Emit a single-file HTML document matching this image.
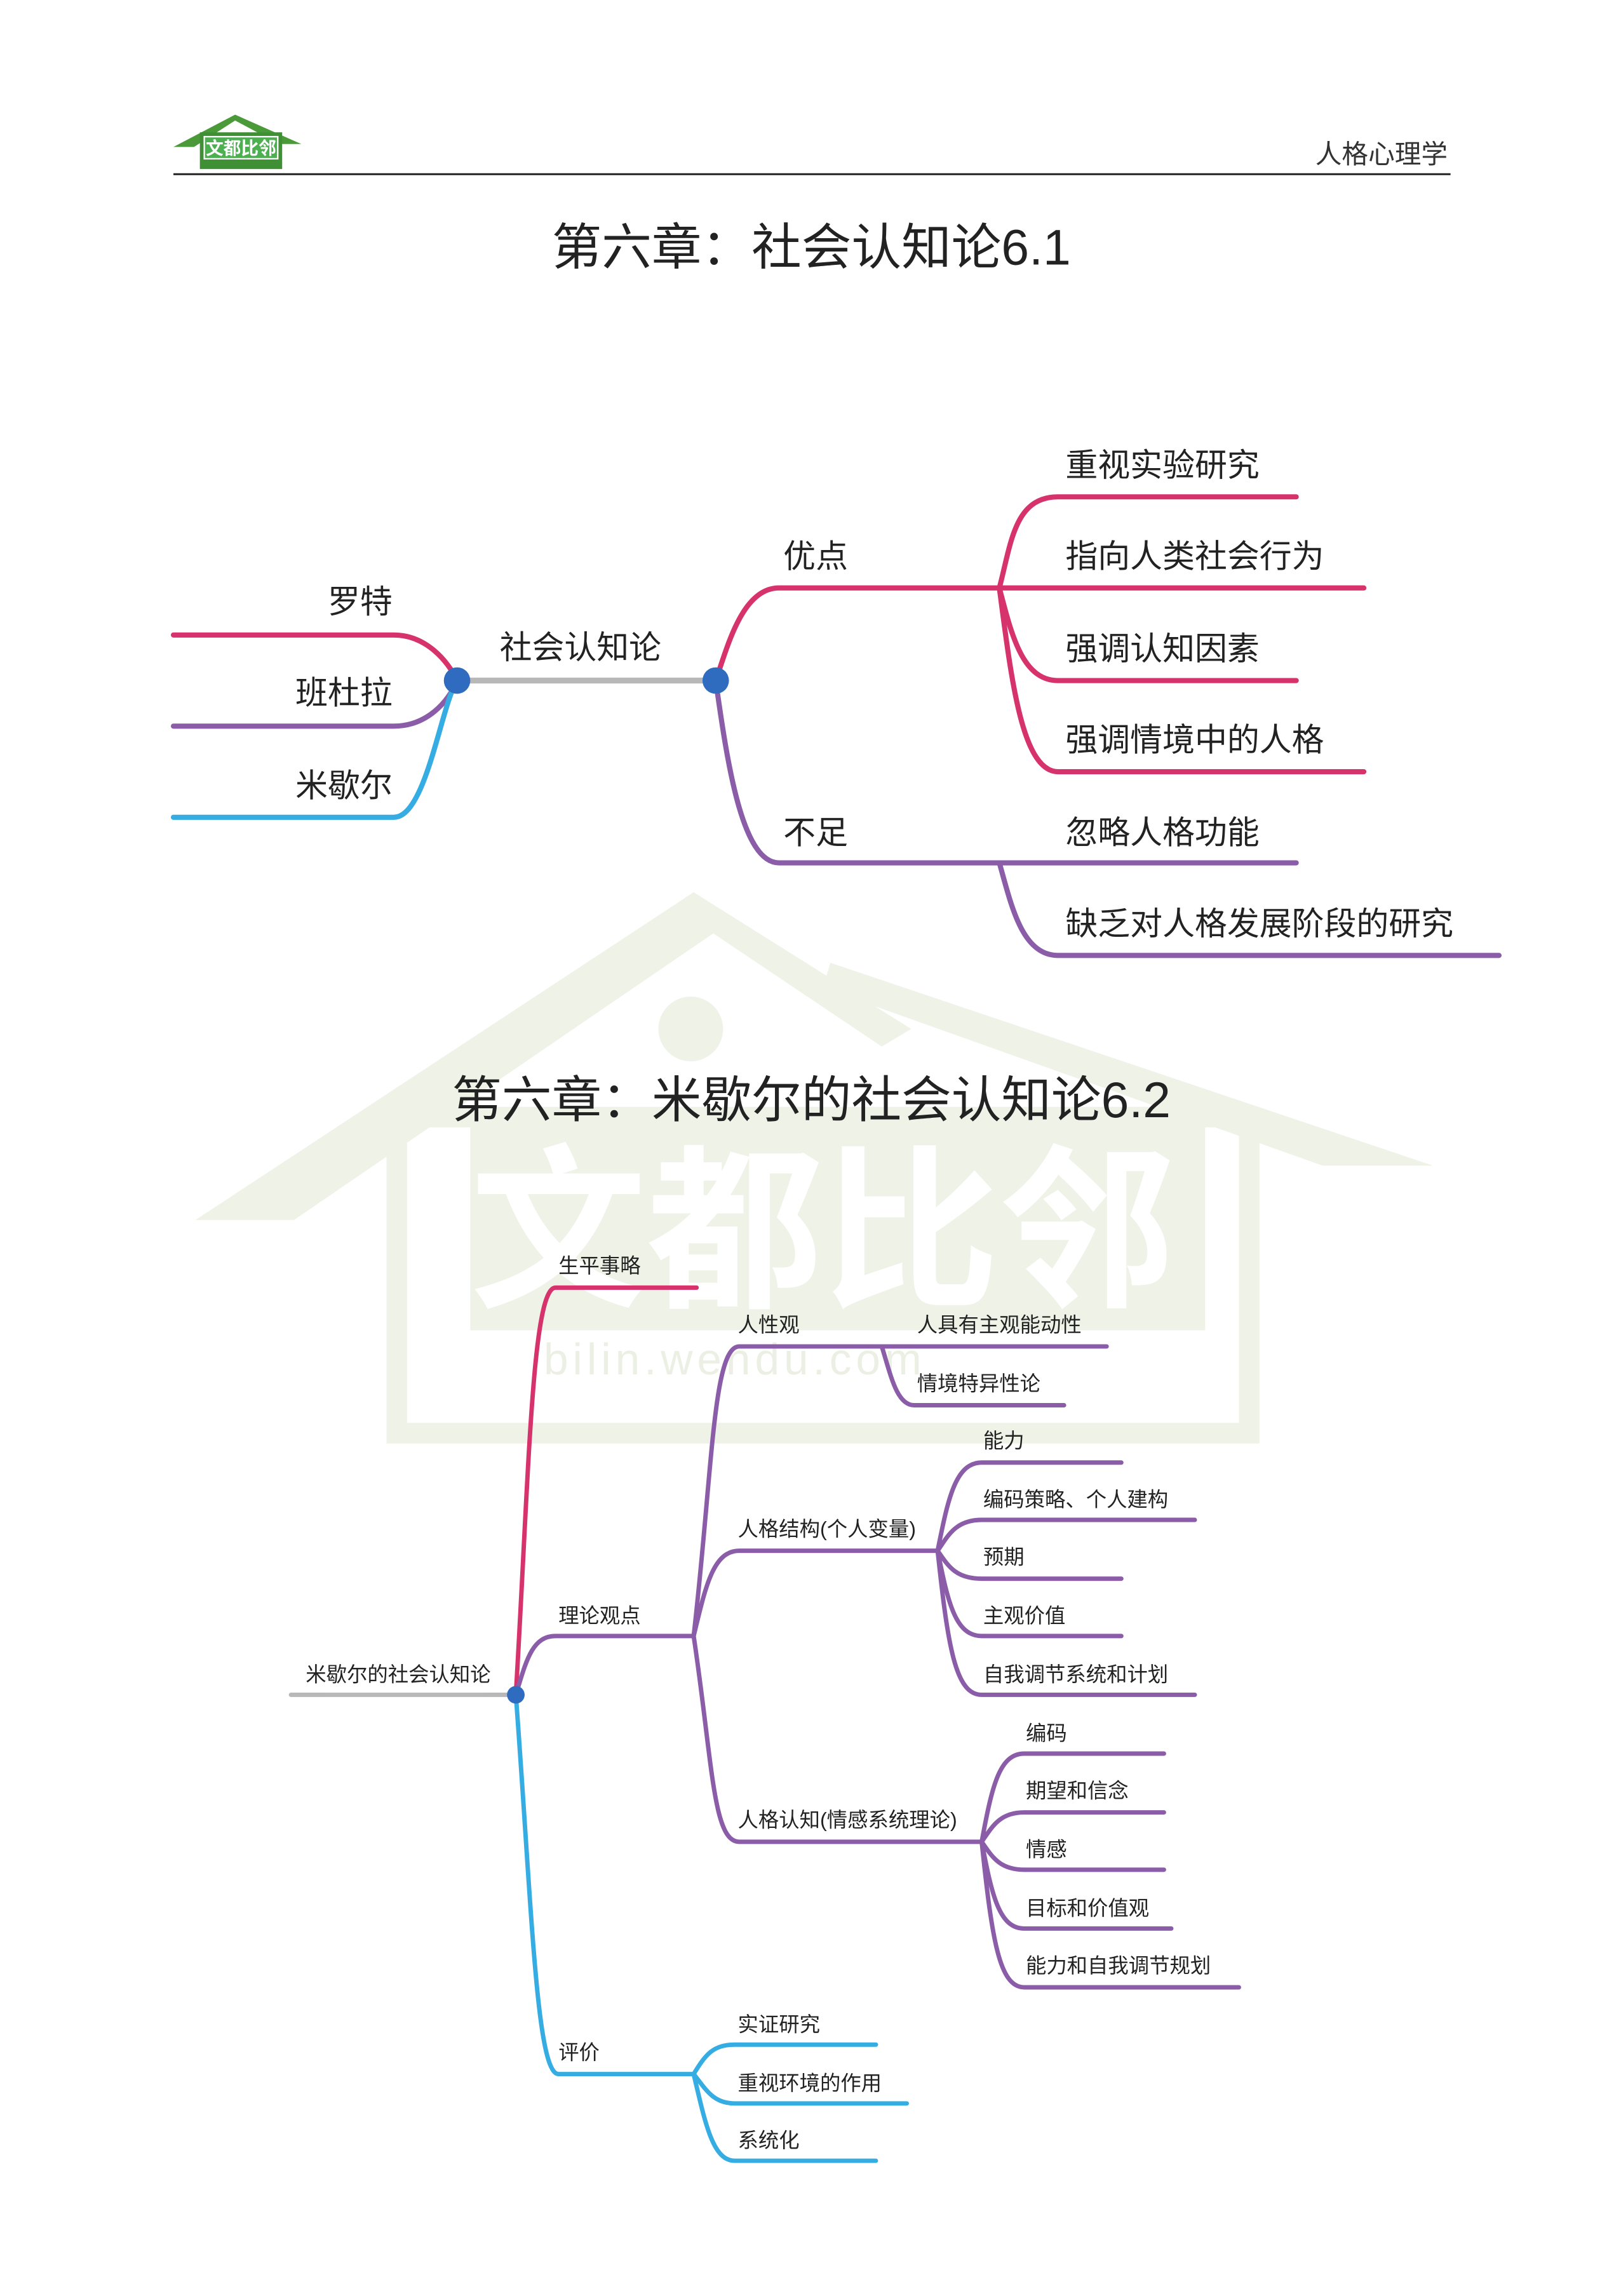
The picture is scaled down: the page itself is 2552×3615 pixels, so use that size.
<!DOCTYPE html>
<html><head><meta charset="utf-8">
<style>
html,body{margin:0;padding:0;background:#fff;}
svg{display:block;}
text{font-family:"Liberation Sans","Noto Sans CJK SC",sans-serif;fill:#222;}
</style></head>
<body>
<svg width="2552" height="3615" viewBox="0 0 1103 1562" preserveAspectRatio="none" xmlns="http://www.w3.org/2000/svg">
<!-- watermark -->
<g fill="#eef2e7">
<polygon points="133,830 472,607 500,625 200,830"/>
<polygon points="565,655 975,793 900,793 560,672"/>
<polygon points="472,607 620,700 600,712 466,622"/>
<rect x="270" y="760" width="580" height="215" fill="none" stroke="#eef2e7" stroke-width="14"/>
<rect x="320" y="765" width="500" height="140"/>
<circle cx="470" cy="700" r="22"/>
</g>
<text x="560" y="880" font-size="120" font-weight="bold" text-anchor="middle" style="fill:#ffffff">文都比邻</text>
<text x="500" y="935" font-size="30" text-anchor="middle" style="fill:#ebefe4" letter-spacing="3">bilin.wendu.com</text>

<!-- header -->
<polygon points="118,100 160,78 205,98 190,98 160,82 132,100" fill="#4a9a3a"/>
<rect x="136" y="90" width="56" height="25" fill="#3f8f35"/>
<rect x="139" y="93" width="50" height="15" fill="#4caf50" stroke="#fff" stroke-width="1"/>
<text x="164" y="105" font-size="12" font-weight="bold" text-anchor="middle" style="fill:#fff">文都比邻</text>
<line x1="118" y1="118.5" x2="987" y2="118.5" stroke="#222" stroke-width="1.3"/>
<text x="985" y="111" font-size="18" text-anchor="end" style="fill:#333">人格心理学</text>

<text x="552" y="180" font-size="34" text-anchor="middle">第六章：社会认知论6.1</text>

<!-- map1 -->
<g fill="none" stroke-width="3.5" stroke-linecap="round">
<line x1="311" y1="463" x2="487" y2="463" stroke="#b8b8b8" stroke-width="4"/>
<path d="M118,432 L268,432 C290,432 305,450 311,463" stroke="#d6336c"/>
<path d="M118,494 L268,494 C290,494 305,478 311,463" stroke="#8b5ca8"/>
<path d="M118,556 L268,556 C290,556 300,480 311,463" stroke="#36ade2"/>
<path d="M487,463 C495,440 505,400 530,400 L680,400" stroke="#d6336c"/>
<path d="M680,400 C688,370 690,338 720,338 L882,338" stroke="#d6336c"/>
<path d="M680,400 L928,400" stroke="#d6336c"/>
<path d="M680,400 C688,430 695,463 720,463 L882,463" stroke="#d6336c"/>
<path d="M680,400 C688,460 695,525 720,525 L928,525" stroke="#d6336c"/>
<path d="M487,463 C495,520 505,587 530,587 L882,587" stroke="#8b5ca8"/>
<path d="M680,587 C688,615 695,650 720,650 L1020,650" stroke="#8b5ca8"/>
</g>
<circle cx="311" cy="463" r="9" fill="#2f6cc0"/>
<circle cx="487" cy="463" r="9" fill="#2f6cc0"/>
<g font-size="22">
<text x="267" y="417" text-anchor="end">罗特</text>
<text x="267" y="479" text-anchor="end">班杜拉</text>
<text x="267" y="542" text-anchor="end">米歇尔</text>
<text x="340" y="448">社会认知论</text>
<text x="533" y="386">优点</text>
<text x="533" y="574">不足</text>
<text x="725" y="324">重视实验研究</text>
<text x="725" y="386">指向人类社会行为</text>
<text x="725" y="449">强调认知因素</text>
<text x="725" y="511">强调情境中的人格</text>
<text x="725" y="574">忽略人格功能</text>
<text x="725" y="636">缺乏对人格发展阶段的研究</text>
</g>

<text x="552" y="760" font-size="34" text-anchor="middle">第六章：米歇尔的社会认知论6.2</text>

<!-- map2 -->
<g fill="none" stroke-width="3" stroke-linecap="round">
<line x1="198" y1="1153" x2="350" y2="1153" stroke="#b8b8b8"/>
<path d="M351,1153 C360,1000 362,876 378,876 L474,876" stroke="#d6336c"/>
<path d="M351,1153 C358,1130 362,1113 378,1113 L472,1113" stroke="#8b5ca8"/>
<path d="M351,1153 C362,1300 365,1411 380,1411 L472,1411" stroke="#36ade2"/>
<path d="M472,1113 C485,1000 485,916 503,916 L753,916" stroke="#8b5ca8"/>
<path d="M600,916 C606,935 610,956 622,956 L724,956" stroke="#8b5ca8"/>
<path d="M472,1113 C480,1080 485,1055 503,1055 L638,1055" stroke="#8b5ca8"/>
<path d="M472,1113 C485,1200 485,1253 503,1253 L668,1253" stroke="#8b5ca8"/>
<path d="M638,1055 C645,1020 650,995 668,995 L763,995" stroke="#8b5ca8"/>
<path d="M638,1055 C645,1045 650,1034 668,1034 L813,1034" stroke="#8b5ca8"/>
<path d="M638,1055 C645,1065 650,1074 668,1074 L763,1074" stroke="#8b5ca8"/>
<path d="M638,1055 C645,1090 650,1113 668,1113 L763,1113" stroke="#8b5ca8"/>
<path d="M638,1055 C645,1120 650,1153 668,1153 L813,1153" stroke="#8b5ca8"/>
<path d="M668,1253 C675,1215 680,1193 697,1193 L792,1193" stroke="#8b5ca8"/>
<path d="M668,1253 C675,1243 680,1233 697,1233 L792,1233" stroke="#8b5ca8"/>
<path d="M668,1253 C675,1263 680,1272 697,1272 L792,1272" stroke="#8b5ca8"/>
<path d="M668,1253 C675,1290 680,1312 697,1312 L797,1312" stroke="#8b5ca8"/>
<path d="M668,1253 C675,1320 680,1352 697,1352 L843,1352" stroke="#8b5ca8"/>
<path d="M472,1411 C480,1398 485,1391 500,1391 L596,1391" stroke="#36ade2"/>
<path d="M472,1411 C480,1421 485,1431 500,1431 L617,1431" stroke="#36ade2"/>
<path d="M472,1411 C480,1445 485,1470 500,1470 L596,1470" stroke="#36ade2"/>
</g>
<circle cx="351" cy="1153" r="6" fill="#2f6cc0"/>
<g font-size="14">
<text x="208" y="1144">米歇尔的社会认知论</text>
<text x="380" y="866">生平事略</text>
<text x="380" y="1104">理论观点</text>
<text x="380" y="1401">评价</text>
<text x="502" y="906">人性观</text>
<text x="624" y="906">人具有主观能动性</text>
<text x="624" y="946">情境特异性论</text>
<text x="502" y="1045">人格结构(个人变量)</text>
<text x="669" y="985">能力</text>
<text x="669" y="1025">编码策略、个人建构</text>
<text x="669" y="1064">预期</text>
<text x="669" y="1104">主观价值</text>
<text x="669" y="1144">自我调节系统和计划</text>
<text x="502" y="1243">人格认知(情感系统理论)</text>
<text x="698" y="1184">编码</text>
<text x="698" y="1223">期望和信念</text>
<text x="698" y="1263">情感</text>
<text x="698" y="1303">目标和价值观</text>
<text x="698" y="1342">能力和自我调节规划</text>
<text x="502" y="1382">实证研究</text>
<text x="502" y="1422">重视环境的作用</text>
<text x="502" y="1461">系统化</text>
</g>
</svg>
</body></html>
